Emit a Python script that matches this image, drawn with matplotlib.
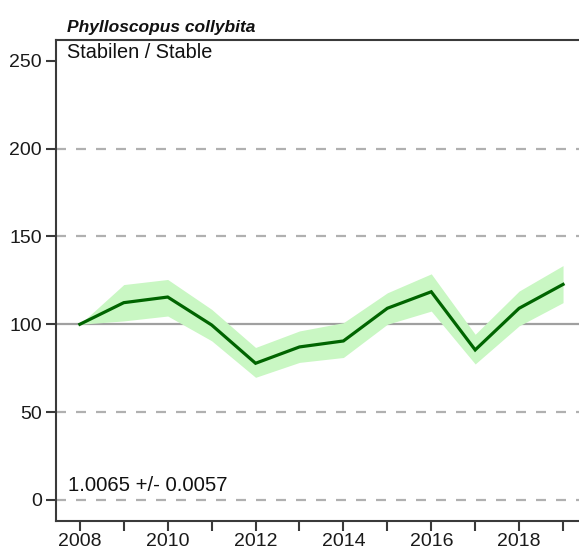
import numpy as np
import matplotlib
matplotlib.use("Agg")
import matplotlib.pyplot as plt

plt.rcParams['font.family'] = ['Liberation Sans', 'DejaVu Sans']

years = [2008, 2009, 2010, 2011, 2012, 2013, 2014, 2015, 2016, 2017, 2018, 2019]
index = [100, 112.3, 115.5, 99.6, 77.8, 87.1, 90.5, 109.1, 118.5, 85.4, 109.1, 122.7]
upper = [100, 122.6, 125.5, 108.5, 86.8, 96.2, 100.9, 117.9, 128.7, 94.3, 118.9, 133.4]
lower = [100, 101.9, 104.7, 90.6, 69.8, 78.3, 81.1, 100.0, 107.5, 77.4, 99.1, 112.3]

species = "Phylloscopus collybita"
trend_class = "Stabilen / Stable"
slope_text = "1.0065 +/- 0.0057"

fig = plt.figure(figsize=(5.79, 5.52), dpi=100)
# axes runs a little past the right edge, so the right border is cut off
ax = fig.add_axes([55.7 / 579, 31.3 / 552, 529.3 / 579, 480.7 / 552])

spine_col = '#3a3a3a'
for s in ['left', 'bottom', 'top']:
    ax.spines[s].set_color(spine_col)
    ax.spines[s].set_linewidth(1.5)
ax.spines['right'].set_visible(False)

# reference lines
for v in [0, 50, 150, 200]:
    ax.axhline(v, color='#b0b0b0', lw=1.6, ls=(0, (4.5, 4.5)), zorder=1)
ax.axhline(100, color='#a0a0a0', lw=1.6, zorder=1)

ax.fill_between(years, lower, upper, color='#c9f7c3', lw=0, zorder=2)
ax.plot(years, index, color='#006400', lw=2.3, zorder=3, solid_joinstyle='miter')

ax.set_xlim(2007.45, 2019.5)
ax.set_ylim(-11.8, 261.8)
ax.set_yticks([0, 50, 100, 150, 200, 250])
ax.set_xticks(years)
ax.set_xticklabels([str(y) if y % 2 == 0 else '' for y in years])
ax.tick_params(axis='both', direction='out', length=7, width=1.5,
               color=spine_col, labelsize=14, labelcolor='#1a1a1a')
ax.tick_params(axis='x', pad=1.5)
ax.tick_params(axis='y', pad=3)

fig.text(66.7 / 579, 1 - 31.7 / 552, species, fontsize=12.5, fontweight='bold',
         fontstyle='italic', ha='left', va='baseline', color='#111111')
fig.text(67 / 579, 1 - 58.3 / 552, trend_class, fontsize=14.3,
         ha='left', va='baseline', color='#111111')
fig.text(68 / 579, 1 - 491 / 552, slope_text, fontsize=14.6,
         ha='left', va='baseline', color='#111111')

fig.savefig('out.png', dpi=100)
